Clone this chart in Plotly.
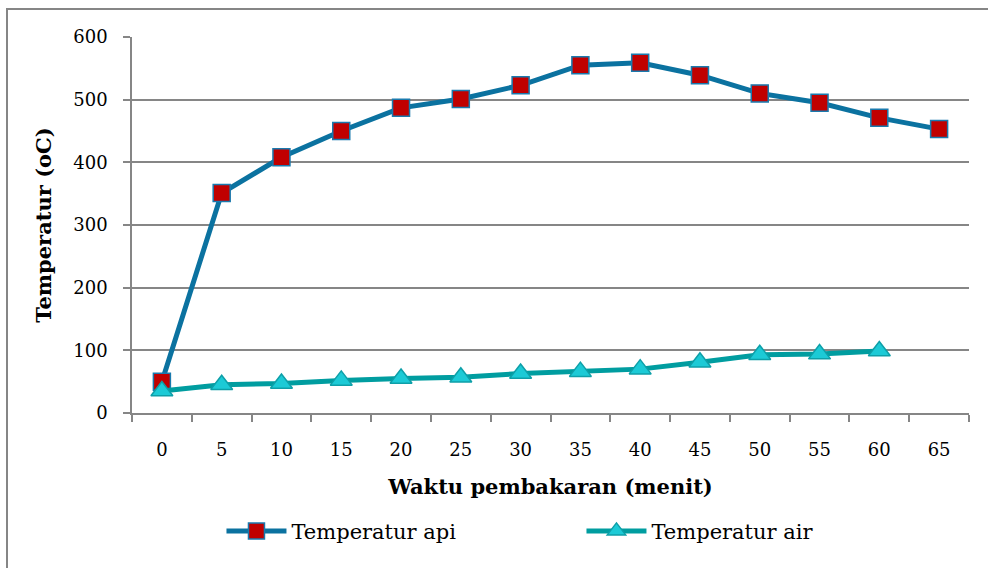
import plotly.graph_objects as go

waktu = ["0", "5", "10", "15", "20", "25", "30", "35", "40", "45", "50", "55", "60", "65"]
temp_api = [50, 351, 408, 450, 487, 501, 523, 555, 559, 539, 510, 495, 471, 453]
temp_air = [35, 45, 47, 52, 55, 57, 63, 66, 70, 81, 93, 94, 99]

FONT = "DejaVu Serif, Liberation Serif, serif"
W, H = 988, 568
L, R, T, B = 132, 19, 37, 155
pw, ph = W - L - R, H - T - B

fig = go.Figure()
fig.add_trace(go.Scatter(
    x=waktu, y=temp_api, name="Temperatur api", mode="lines+markers",
    line=dict(color="#0B72A0", width=5),
    marker=dict(symbol="square", size=17, color="#C00000",
                line=dict(color="#1A7AAE", width=1.5)),
))
fig.add_trace(go.Scatter(
    x=waktu[:len(temp_air)], y=temp_air, name="Temperatur air", mode="lines+markers",
    line=dict(color="#009DA0", width=5),
    marker=dict(symbol="triangle-up", size=19, color="#1CCAD6",
                line=dict(color="#0E9FA8", width=1.5)),
))

fig.update_layout(
    width=W, height=H,
    margin=dict(l=L, r=R, t=T, b=B),
    paper_bgcolor="white", plot_bgcolor="white",
    font=dict(family=FONT, color="black", size=18),
    showlegend=True,
    legend=dict(orientation="h", x=0.537, xanchor="center", y=-0.26, yanchor="top",
                font=dict(family=FONT, size=21), entrywidth=285, itemwidth=60,
                traceorder="normal"),
    xaxis=dict(
        type="category", range=[-0.5, 13.5],
        showgrid=False, showline=True, linecolor="#868686", linewidth=1.5,
        ticks="outside", ticklen=7, tickcolor="#868686", tickwidth=1.5,
        tickson="boundaries", ticklabelstandoff=20,
        tickfont=dict(family=FONT, size=18),
        title=dict(text="<b>Waktu pembakaran (menit)</b>", standoff=20,
                   font=dict(family=FONT, size=21)),
    ),
    yaxis=dict(
        range=[0, 600], tickvals=[0, 100, 200, 300, 400, 500, 600],
        showgrid=True, gridcolor="#868686", gridwidth=1.5,
        showline=True, linecolor="#868686", linewidth=1.5,
        ticks="outside", ticklen=7, tickcolor="#868686", tickwidth=1.5,
        ticklabelstandoff=12, zeroline=False,
        tickfont=dict(family=FONT, size=18),
        title=dict(text="<b>Temperatur (oC)</b>", standoff=16,
                   font=dict(family=FONT, size=21)),
    ),
    shapes=[dict(type="rect", xref="paper", yref="paper",
                 x0=(7 - L) / pw, x1=(W + 10 - L) / pw,
                 y0=-(H + 10 - T - ph) / ph, y1=(ph + T - 9) / ph,
                 line=dict(color="#868686", width=2), fillcolor="rgba(0,0,0,0)",
                 layer="below")],
)

fig.write_html("out.html")
